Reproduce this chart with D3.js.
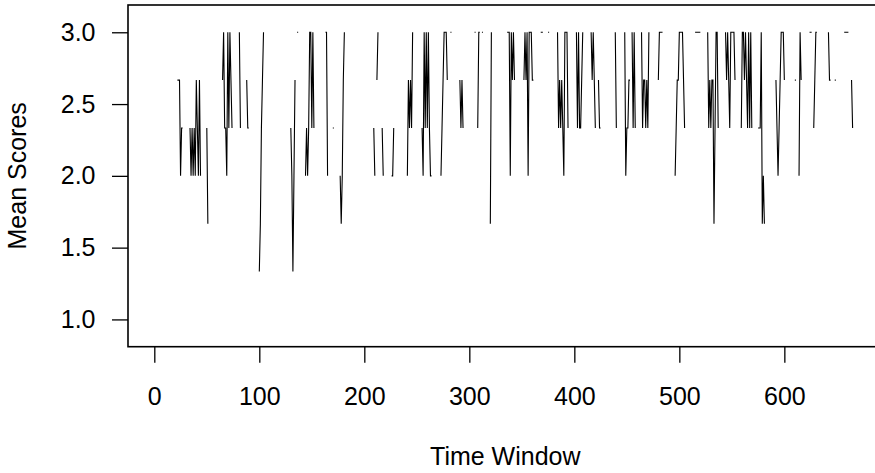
<!DOCTYPE html>
<html>
<head>
<meta charset="utf-8">
<script src="https://cdn.jsdelivr.net/npm/d3@7"></script>
<style>
  html, body { margin: 0; padding: 0; background: #fff; }
  svg { display: block; font-family: "Liberation Sans", Arial, Helvetica, sans-serif; }
</style>
</head>
<body>
<svg id="chart" width="875" height="473"></svg>
<script>
// ---- data (time window index where each observed run starts, and its mean scores; gaps are missing) ----
const runStarts = [22, 34, 50, 65, 81, 88, 100, 130, 136, 144, 163, 170, 177, 209, 212, 217, 226, 241, 255, 273,
  282, 291, 305, 308, 312, 320, 336, 352, 368, 375, 384, 402, 416, 423, 439, 448, 455, 464, 480, 496,
  515, 527, 544, 559, 575, 592, 610, 614, 624, 628, 642, 648, 657, 664];
const runValues = [
  [2.667, 2.667, 2.667, 2.0, 2.333, 2.333],
  [2.333, 2.0, 2.333, 2.0, 2.333, 2.0, 2.667, 2.333, 2.0, 2.667, 2.0],
  [2.333, 1.667],
  [2.667, 3.0, 2.333, 2.333, 2.0, 3.0, 2.333, 3.0, 2.667, 2.333],
  [3.0, 2.333],
  [2.667, 2.333, 2.333],
  [1.333, 1.667, 2.333, 2.667, 3.0],
  [2.333, 2.0, 1.333, 2.0, 2.667],
  [3.0, 3.0],
  [2.0, 2.333, 2.0, 2.333, 3.0, 3.0, 2.333, 3.0, 2.333],
  [3.0, 3.0, 2.0],
  [2.333, 2.333],
  [2.0, 1.667, 2.0, 2.667, 3.0],
  [2.333, 2.0],
  [2.667, 3.0],
  [2.333, 2.0],
  [2.0, 2.0, 2.333],
  [2.0, 2.667, 2.333, 2.667, 2.333, 3.0],
  [2.333, 2.0, 3.0, 2.333, 3.0, 2.333, 3.0, 2.333, 2.0, 2.0],
  [2.0, 2.333, 2.667, 3.0, 3.0, 3.0, 2.667],
  [3.0, 3.0],
  [2.667, 2.333, 2.667, 2.333],
  [3.0, 3.0],
  [2.333, 3.0, 3.0],
  [3.0, 3.0],
  [1.667, 3.0],
  [3.0, 3.0, 3.0, 2.0, 3.0, 2.667, 3.0, 2.667],
  [2.667, 3.0, 2.667, 3.0, 2.0, 3.0, 3.0, 3.0, 2.667, 2.667],
  [3.0, 3.0, 3.0],
  [3.0, 3.0],
  [3.0, 2.333, 2.667, 2.333, 2.667, 2.333, 2.0, 3.0, 3.0, 3.0, 2.333],
  [3.0, 2.333, 3.0, 2.333, 2.333, 2.667, 3.0],
  [3.0, 2.667, 3.0, 2.667, 2.333],
  [2.667, 2.333, 2.333],
  [3.0, 2.333],
  [3.0, 2.0, 2.333, 2.333, 2.667, 2.667],
  [3.0, 2.333, 3.0, 2.333],
  [3.0, 2.333, 2.667, 2.667, 2.333, 2.667, 2.333, 3.0],
  [2.667, 3.0, 3.0, 3.0, 3.0],
  [2.0, 2.333, 2.667, 2.667, 3.0, 3.0, 3.0, 3.0, 2.667, 2.333],
  [3.0, 3.0, 3.0, 3.0, 3.0, 3.0],
  [3.0, 2.333, 2.667, 2.333, 2.667, 2.667, 1.667, 2.333, 3.0, 3.0, 2.333],
  [3.0, 2.667, 3.0, 2.667, 2.333, 3.0, 3.0, 3.0, 3.0, 2.667],
  [2.333, 3.0, 3.0, 2.667, 3.0, 2.667, 2.333, 3.0, 2.333, 3.0, 2.333],
  [2.333, 2.333, 2.333, 3.0, 1.667, 2.0, 1.667],
  [2.667, 2.333, 2.0, 2.333, 2.667, 3.0, 3.0, 3.0, 2.667],
  [2.667, 2.667],
  [2.0, 3.0, 2.667],
  [3.0, 3.0, 3.0],
  [2.333, 2.667, 3.0, 3.0],
  [3.0, 2.667, 2.667],
  [2.667, 2.667],
  [3.0, 3.0, 3.0, 3.0, 3.0],
  [2.667, 2.333]
];
const xTicks = [0, 100, 200, 300, 400, 500, 600];
const yTicks = [1.0, 1.5, 2.0, 2.5, 3.0];
const xTitle = "Time Window";
const yTitle = "Mean Scores";
const nWindows = 668;

// ---- build series with missing values ----
const series = [];
for (let t = 1; t <= nWindows; t++) series.push({ t: t, v: null });
runStarts.forEach((s, i) => {
  runValues[i].forEach((v, j) => { series[s + j - 1].v = v; });
});

// ---- layout ----
const svg = d3.select("#chart");
const box = { left: 128, right: 882, top: 5, bottom: 346.7 };
const fontSize = 25;

const x = d3.scaleLinear().domain([-25.05, 693]).range([box.left, box.right]);
const y = d3.scaleLinear().domain([0.81, 3.19]).range([box.bottom, box.top]);

// data line
const line = d3.line()
  .defined(d => d.v !== null)
  .x(d => x(d.t))
  .y(d => y(d.v));

svg.append("path")
  .datum(series)
  .attr("d", line)
  .attr("fill", "none")
  .attr("stroke", "#000")
  .attr("stroke-width", 1.1);

// box
svg.append("rect")
  .attr("x", box.left).attr("y", box.top)
  .attr("width", box.right - box.left).attr("height", box.bottom - box.top)
  .attr("fill", "none").attr("stroke", "#000").attr("stroke-width", 1.6);

// x axis
const gx = svg.append("g")
  .attr("transform", `translate(0,${box.bottom})`)
  .call(d3.axisBottom(x).tickValues(xTicks).tickSize(16).tickPadding(24.5).tickFormat(d3.format("d")));
gx.select(".domain").remove();
gx.selectAll("line").attr("stroke", "#000").attr("stroke-width", 1.3);
gx.selectAll("text").attr("font-size", fontSize).attr("fill", "#000")
  .attr("font-family", "'Liberation Sans', Arial, sans-serif");

// y axis
const gy = svg.append("g")
  .attr("transform", `translate(${box.left},0)`)
  .call(d3.axisLeft(y).tickValues(yTicks).tickSize(16).tickPadding(16.5).tickFormat(d3.format(".1f")));
gy.select(".domain").remove();
gy.selectAll("line").attr("stroke", "#000").attr("stroke-width", 1.3);
gy.selectAll("text").attr("font-size", fontSize).attr("fill", "#000")
  .attr("font-family", "'Liberation Sans', Arial, sans-serif");

// titles
svg.append("text")
  .attr("x", 505.3).attr("y", 465)
  .attr("text-anchor", "middle")
  .attr("font-size", fontSize)
  .text(xTitle);

svg.append("text")
  .attr("transform", `translate(25.5,${(box.top + box.bottom) / 2}) rotate(-90)`)
  .attr("text-anchor", "middle")
  .attr("font-size", fontSize)
  .text(yTitle);
</script>
</body>
</html>
